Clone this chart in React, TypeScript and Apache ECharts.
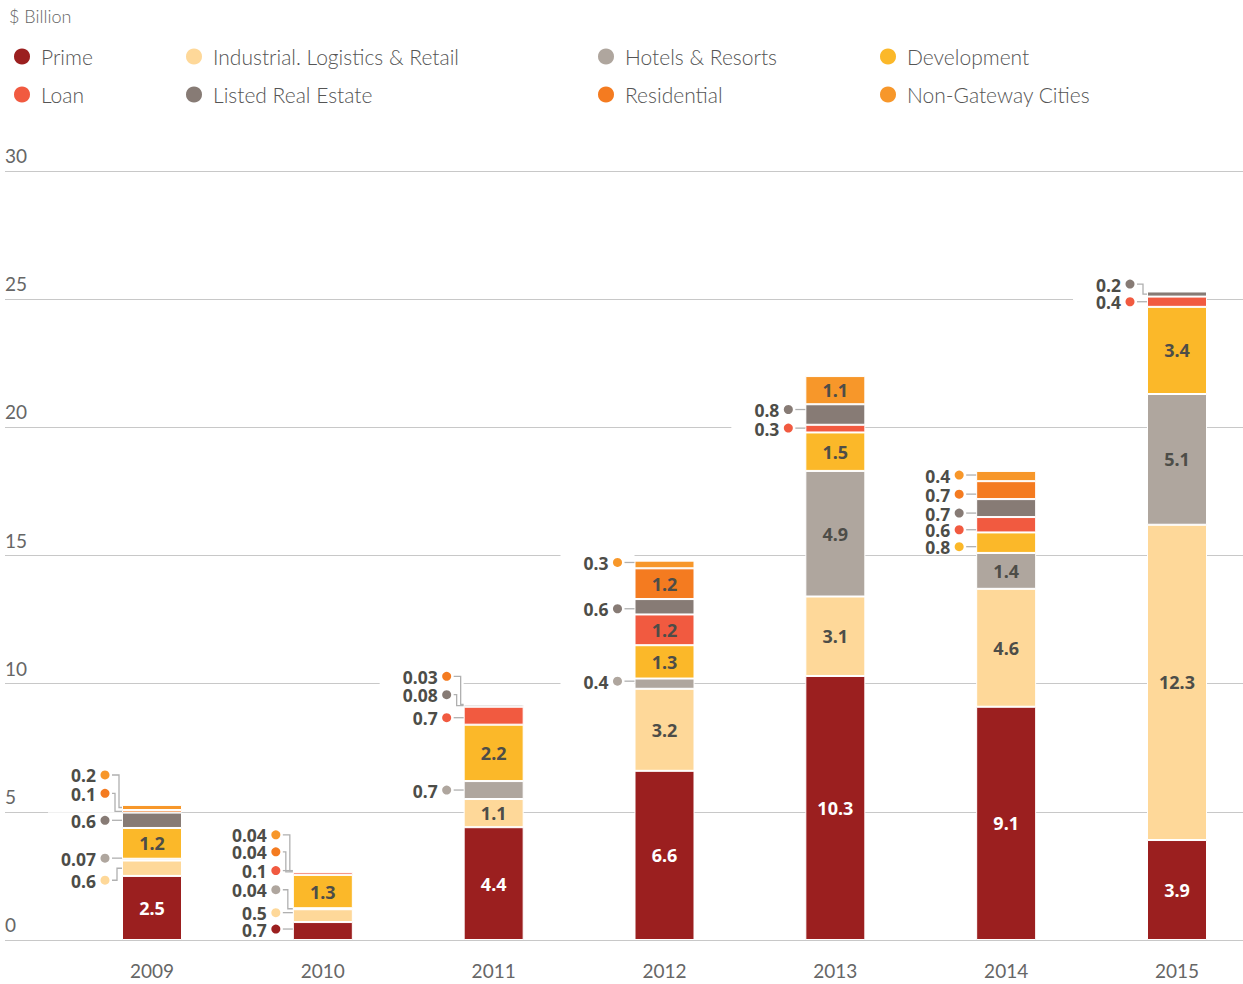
import React, { useEffect, useRef } from "react";
import * as echarts from "echarts";

const years = ["2009", "2010", "2011", "2012", "2013", "2014", "2015"];
const seriesNames = [
  "Prime",
  "Industrial. Logistics & Retail",
  "Hotels & Resorts",
  "Development",
  "Loan",
  "Listed Real Estate",
  "Residential",
  "Non-Gateway Cities",
];
const prime = [2.5, 0.7, 4.4, 6.6, 10.3, 9.1, 3.9];
const industrial = [0.6, 0.5, 1.1, 3.2, 3.1, 4.6, 12.3];
const hotels = [0.07, 0.04, 0.7, 0.4, 4.9, 1.4, 5.1];
const development = [1.2, 1.3, 2.2, 1.3, 1.5, 0.8, 3.4];
const loan = [0, 0.1, 0.7, 1.2, 0.3, 0.6, 0.4];
const listed = [0.6, 0, 0.08, 0.6, 0.8, 0.7, 0.2];
const residential = [0.1, 0.04, 0.03, 1.2, 0, 0.7, 0];
const nonGateway = [0.2, 0.04, 0, 0.3, 1.1, 0.4, 0];
const seriesValues = [prime, industrial, hotels, development, loan, listed, residential, nonGateway];
const colors = ["#9B1F1F", "#FED899", "#AFA69E", "#FBB829", "#F15A40", "#877B75", "#F47B20", "#F7972A"];
const yMin = 0;
const yMax = 30;
const yInterval = 5;

// callouts: year index, series index, label offset (px), elbow distance (px, 0 = straight)
const callouts = [
  { year: 0, s: 7, dy: -32.5, elbow: 3 },
  { year: 0, s: 6, dy: -18, elbow: 7 },
  { year: 0, s: 5, dy: 0, elbow: 0 },
  { year: 0, s: 2, dy: -1.5, elbow: 0 },
  { year: 0, s: 1, dy: 12, elbow: 5 },
  { year: 1, s: 7, dy: -36, elbow: 3 },
  { year: 1, s: 6, dy: -20, elbow: 7 },
  { year: 1, s: 4, dy: -3, elbow: 0 },
  { year: 1, s: 2, dy: -19, elbow: 5 },
  { year: 1, s: 1, dy: -3, elbow: 0 },
  { year: 1, s: 0, dy: -2, elbow: 0 },
  { year: 2, s: 6, dy: -28, elbow: 3 },
  { year: 2, s: 5, dy: -11, elbow: 7 },
  { year: 2, s: 4, dy: 2, elbow: 0 },
  { year: 2, s: 2, dy: 0, elbow: 0 },
  { year: 3, s: 7, dy: -2, elbow: 0 },
  { year: 3, s: 5, dy: 2, elbow: 0 },
  { year: 3, s: 2, dy: -2.5, elbow: 0 },
  { year: 4, s: 5, dy: -5, elbow: 0 },
  { year: 4, s: 4, dy: -0.5, elbow: 0 },
  { year: 5, s: 7, dy: -1, elbow: 0 },
  { year: 5, s: 6, dy: 4, elbow: 0 },
  { year: 5, s: 5, dy: 5, elbow: 0 },
  { year: 5, s: 4, dy: 5, elbow: 0 },
  { year: 5, s: 3, dy: 4, elbow: 0 },
  { year: 6, s: 5, dy: -10, elbow: 4 },
  { year: 6, s: 4, dy: 0, elbow: 0 },
];

const BAR_W = 60;
const FONT = "Lato, 'Noto Sans', sans-serif";
const BOLD_FONT = "'Noto Sans', sans-serif";

function midOf(year: number, s: number) {
  let below = 0;
  for (let i = 0; i < s; i++) below += seriesValues[i][year];
  return below + seriesValues[s][year] / 2;
}

export default function App() {
  const ref = useRef<HTMLDivElement>(null);
  useEffect(() => {
    if (!ref.current) return;
    const chart = echarts.init(ref.current, undefined, { renderer: "svg" });
    const legendCols = [
      { left: 12, names: [seriesNames[0], seriesNames[4]] },
      { left: 184, names: [seriesNames[1], seriesNames[5]] },
      { left: 596, names: [seriesNames[2], seriesNames[6]] },
      { left: 878, names: [seriesNames[3], seriesNames[7]] },
    ];
    const barSeries = seriesNames.map((name, si) => ({
      name,
      type: "bar",
      stack: "total",
      xAxisIndex: 1,
      yAxisIndex: 1,
      barWidth: BAR_W,
      clip: false,
      itemStyle: { color: colors[si], borderColor: "#fff", borderWidth: 1 },
      label: {
        show: true,
        position: "inside",
        formatter: (p: any) => (typeof p.value === "number" && p.value >= 1 ? String(p.value) : ""),
        color: si === 0 ? "#fff" : "#4d4d48",
        fontFamily: BOLD_FONT,
        fontWeight: "bold",
        fontSize: 18,
      },
      emphasis: { disabled: true },
      data: seriesValues[si].map((v) => (v === 0 ? "-" : v)),
      z: 2,
    }));
    const calloutData = callouts.map((c) => [c.year, midOf(c.year, c.s)]);
    const option: any = {
      animation: false,
      title: {
        text: "$ Billion",
        left: 4,
        top: 2,
        textStyle: { fontFamily: FONT, fontWeight: 300, fontSize: 18, color: "#666" },
      },
      legend: legendCols.map((col) => ({
        data: col.names,
        left: col.left,
        top: 46,
        orient: "vertical",
        padding: 0,
        itemGap: 17,
        itemWidth: 18,
        itemHeight: 18,
        icon: "circle",
        selectedMode: false,
        textStyle: { fontFamily: FONT, fontWeight: 300, fontSize: 21, color: "#555", padding: [0, 0, 0, 5] },
      })),
      grid: [
        { left: 5, right: 0, top: 171, bottom: 44 },
        { left: 152, right: 66, top: 171, bottom: 44 },
      ],
      xAxis: [
        { type: "value", gridIndex: 0, show: false, min: 0, max: 1 },
        {
          type: "category",
          gridIndex: 1,
          data: years,
          boundaryGap: false,
          axisLine: { show: false },
          axisTick: { show: false },
          axisLabel: { color: "#666", fontFamily: FONT, fontSize: 19, margin: 21 },
        },
      ],
      yAxis: [
        {
          type: "value",
          gridIndex: 0,
          min: yMin,
          max: yMax,
          interval: yInterval,
          axisLine: { show: false },
          axisTick: { show: false },
          splitLine: { show: true, lineStyle: { color: "#c8c8c8", width: 1.2 } },
          axisLabel: {
            inside: true,
            margin: 0,
            verticalAlign: "bottom",
            padding: [0, 0, 6, 0],
            color: "#666",
            fontFamily: FONT,
            fontSize: 19,
          },
        },
        { type: "value", gridIndex: 1, min: yMin, max: yMax, show: false },
      ],
      series: [
        ...barSeries,
        {
          type: "custom",
          xAxisIndex: 1,
          yAxisIndex: 1,
          z: 5,
          silent: true,
          clip: false,
          data: calloutData,
          renderItem: (params: any, api: any) => {
            const c = callouts[params.dataIndex];
            const pt = api.coord([api.value(0), api.value(1)]);
            const barLeft = pt[0] - BAR_W / 2;
            const segY = pt[1];
            const ly = segY + c.dy;
            const dotX = barLeft - 17;
            const text = String(seriesValues[c.s][c.year]);
            const textW = text.length * 10;
            const maskLeft = dotX - 9 - textW - 18;
            const pts = c.elbow
              ? [
                  [dotX + 7, ly],
                  [barLeft - c.elbow, ly],
                  [barLeft - c.elbow, segY],
                  [barLeft, segY],
                ]
              : [
                  [dotX + 7, ly],
                  [barLeft, ly],
                ];
            return {
              type: "group",
              children: [
                {
                  type: "rect",
                  shape: { x: maskLeft, y: ly - 8, width: barLeft - maskLeft, height: 16 },
                  style: { fill: "#fff" },
                  z2: 1,
                },
                {
                  type: "text",
                  x: dotX - 9,
                  y: ly + 0.5,
                  style: {
                    text,
                    align: "right",
                    verticalAlign: "middle",
                    fill: "#4d4d48",
                    fontFamily: BOLD_FONT,
                    fontWeight: "bold",
                    fontSize: 17.5,
                    lineHeight: 16,
                  },
                  z2: 2,
                },
                {
                  type: "polyline",
                  shape: { points: pts },
                  style: { stroke: "#b0b0b0", lineWidth: 1.3, fill: null },
                  z2: 5,
                },
                {
                  type: "circle",
                  shape: { cx: dotX, cy: ly, r: 4.5 },
                  style: { fill: colors[c.s] },
                  z2: 6,
                },
              ],
            };
          },
        },
      ],
    };
    chart.setOption(option);
    return () => chart.dispose();
  }, []);
  return <div ref={ref} style={{ width: 1243, height: 984, position: "absolute", left: 0, top: 0 }} />;
}
